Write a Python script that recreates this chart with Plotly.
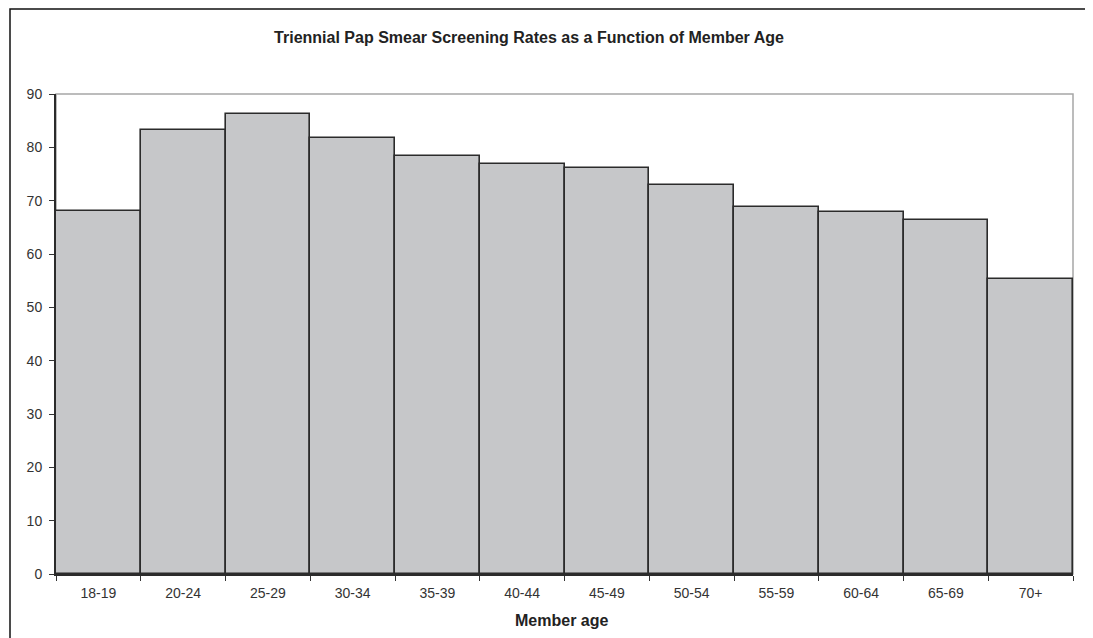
import plotly.graph_objects as go

age_groups = ["18-19", "20-24", "25-29", "30-34", "35-39", "40-44",
              "45-49", "50-54", "55-59", "60-64", "65-69", "70+"]
rates = [68.0, 83.3, 86.3, 81.8, 78.4, 76.8, 76.1, 73.0, 68.9, 67.9, 66.4, 55.4]
y_ticks = [0, 10, 20, 30, 40, 50, 60, 70, 80, 90]

title_text = "Triennial Pap Smear Screening Rates as a Function of Member Age"
x_title = "Member age"

FONT = "Liberation Sans, Arial, sans-serif"
# page body has an 8px margin; size the figure so it fills the 1093x638 window
OFF = 8
W, H = 1093 - OFF, 638 - OFF
L, R, T, B = 56 - OFF, 20, 94 - OFF, 64
pw, ph = W - L - R, H - T - B

fig = go.Figure(go.Bar(
    x=age_groups, y=rates,
    marker=dict(color="#c6c7c9", line=dict(color="#2b2b2b", width=1.6)),
    hoverinfo="x+y",
))

fig.update_layout(
    width=W, height=H,
    margin=dict(l=L, r=R, t=T, b=B, pad=0, autoexpand=False),
    paper_bgcolor="white", plot_bgcolor="white",
    bargap=0, showlegend=False,
    font=dict(family=FONT, size=14, color="#333333"),
    title=dict(text="<b>" + title_text + "</b>", x=(529 - OFF) / W, xanchor="center",
               xref="container", y=1 - (37 - OFF) / H, yanchor="middle", yref="container",
               font=dict(family=FONT, size=16, color="#222222")),
    xaxis=dict(
        type="category", tickson="boundaries", ticks="outside", ticklen=5,
        tickcolor="#333333", tickwidth=1.2, automargin=False,
        showline=True, linecolor="#2b2b2b", linewidth=2,
        showgrid=False, tickfont=dict(size=14, color="#333333"),
        ticklabelstandoff=5,
        range=[-0.5, len(age_groups) - 0.5],
    ),
    yaxis=dict(
        range=[0, 90], tickvals=y_ticks, ticks="outside", ticklen=5,
        tickcolor="#333333", tickwidth=1.2, automargin=False,
        showline=True, linecolor="#2b2b2b", linewidth=2,
        showgrid=False, zeroline=False, tickfont=dict(size=14, color="#333333"),
        ticklabelstandoff=4,
    ),
    annotations=[
        dict(text="<b>" + x_title + "</b>", xref="paper", yref="paper",
             x=0.497, y=-46 / ph, xanchor="center", yanchor="middle",
             showarrow=False, font=dict(size=16, color="#222222")),
    ],
    shapes=[
        dict(type="rect", xref="paper", yref="paper", x0=0, x1=1, y0=0, y1=1,
             line=dict(color="#a6a6a6", width=1.5), layer="below"),
        dict(type="path", xref="paper", yref="paper",
             path="M {x0},{yb} L {x0},{yt} L {xr},{yt}".format(
                 x0=(10 - OFF - L) / pw, yb=(T + ph - H - 5) / ph,
                 yt=(T + ph - (9 - OFF)) / ph, xr=(W + 5 - L) / pw),
             line=dict(color="#111111", width=1.5)),
    ],
)

fig.write_html("out.html")
